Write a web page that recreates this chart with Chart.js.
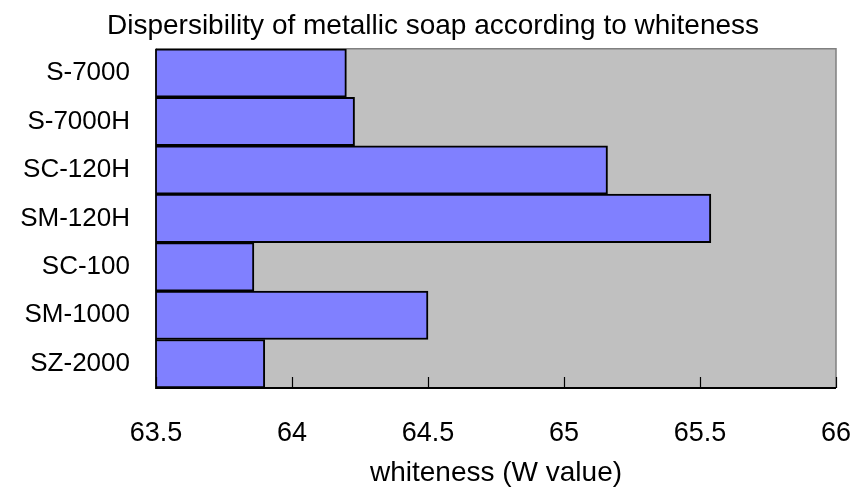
<!DOCTYPE html>
<html>
<head>
<meta charset="utf-8">
<script src="https://cdn.jsdelivr.net/npm/chart.js@4"></script>
<style>
html,body{margin:0;padding:0;background:#fff;}
#wrap{width:853px;height:487px;position:relative;}
</style>
</head>
<body>
<div id="wrap"><canvas id="c"></canvas></div>
<script>
const categories = ["S-7000", "S-7000H", "SC-120H", "SM-120H", "SC-100", "SM-1000", "SZ-2000"];
const whiteness = [64.20, 64.23, 65.16, 65.54, 63.86, 64.50, 63.90];
const xMin = 63.5, xMax = 66, xStep = 0.5;
const chartTitle = "Dispersibility of metallic soap according to whiteness";
const xTitle = "whiteness (W value)";

const FONT = "'Liberation Sans', Arial, sans-serif";

const plotFrame = {
  id: 'plotFrame',
  beforeDatasetsDraw(chart) {
    const {ctx, chartArea: a} = chart;
    ctx.save();
    ctx.fillStyle = '#C0C0C0';
    ctx.fillRect(a.left, a.top, a.right - a.left, a.bottom - a.top);
    ctx.strokeStyle = '#808080';
    ctx.lineWidth = 1.5;
    ctx.beginPath();
    ctx.moveTo(a.left, a.top);
    ctx.lineTo(a.right, a.top);
    ctx.lineTo(a.right, a.bottom);
    ctx.stroke();
    ctx.restore();
  },
  afterDatasetsDraw(chart) {
    const {ctx, chartArea: a} = chart;
    const xs = chart.scales.x;
    ctx.save();
    ctx.strokeStyle = '#000';
    ctx.lineWidth = 1.2;
    ctx.beginPath();
    for (let i = 0; i < xs.ticks.length; i++) {
      const px = Math.round(xs.getPixelForTick(i)) + 0.5;
      ctx.moveTo(px, a.bottom);
      ctx.lineTo(px, a.bottom - 11);
    }
    ctx.stroke();
    ctx.lineWidth = 1.8;
    ctx.beginPath();
    ctx.moveTo(a.left, a.top);
    ctx.lineTo(a.left, a.bottom);
    ctx.lineTo(a.right, a.bottom);
    ctx.stroke();
    ctx.restore();
  }
};

new Chart(document.getElementById('c'), {
  type: 'bar',
  data: {
    labels: categories,
    datasets: [{
      data: whiteness,
      backgroundColor: '#8080FF',
      borderColor: '#000000',
      borderWidth: 2,
      borderSkipped: false,
      barPercentage: 1,
      categoryPercentage: 1
    }]
  },
  options: {
    indexAxis: 'y',
    responsive: true,
    maintainAspectRatio: false,
    animation: false,
    devicePixelRatio: 1,
    layout: { padding: { left: 13, right: 0, top: 0, bottom: 0 } },
    plugins: {
      legend: { display: false },
      tooltip: { enabled: false },
      title: {
        display: true,
        text: chartTitle,
        color: '#000',
        font: { family: FONT, size: 28, weight: 'normal', lineHeight: 1.1 },
        padding: { top: 11, bottom: 7 }
      }
    },
    scales: {
      x: {
        type: 'linear',
        min: xMin,
        max: xMax,
        ticks: {
          stepSize: xStep,
          color: '#000',
          padding: 29,
          font: { family: FONT, size: 27 },
          callback: v => String(v)
        },
        grid: { display: false, drawTicks: false },
        border: { display: false },
        title: {
          display: true,
          text: xTitle,
          color: '#000',
          font: { family: FONT, size: 28, lineHeight: 1.0 },
          padding: { top: 0, bottom: 0 }
        },
        afterFit: s => { s.height = 99; s.paddingRight = 17; s.paddingLeft = 0; }
      },
      y: {
        ticks: {
          color: '#000',
          padding: 26,
          font: { family: FONT, size: 26 }
        },
        grid: { display: false, drawTicks: false },
        border: { display: false },
        afterFit: s => { s.width = 143; }
      }
    }
  },
  plugins: [plotFrame]
});
</script>
</body>
</html>
